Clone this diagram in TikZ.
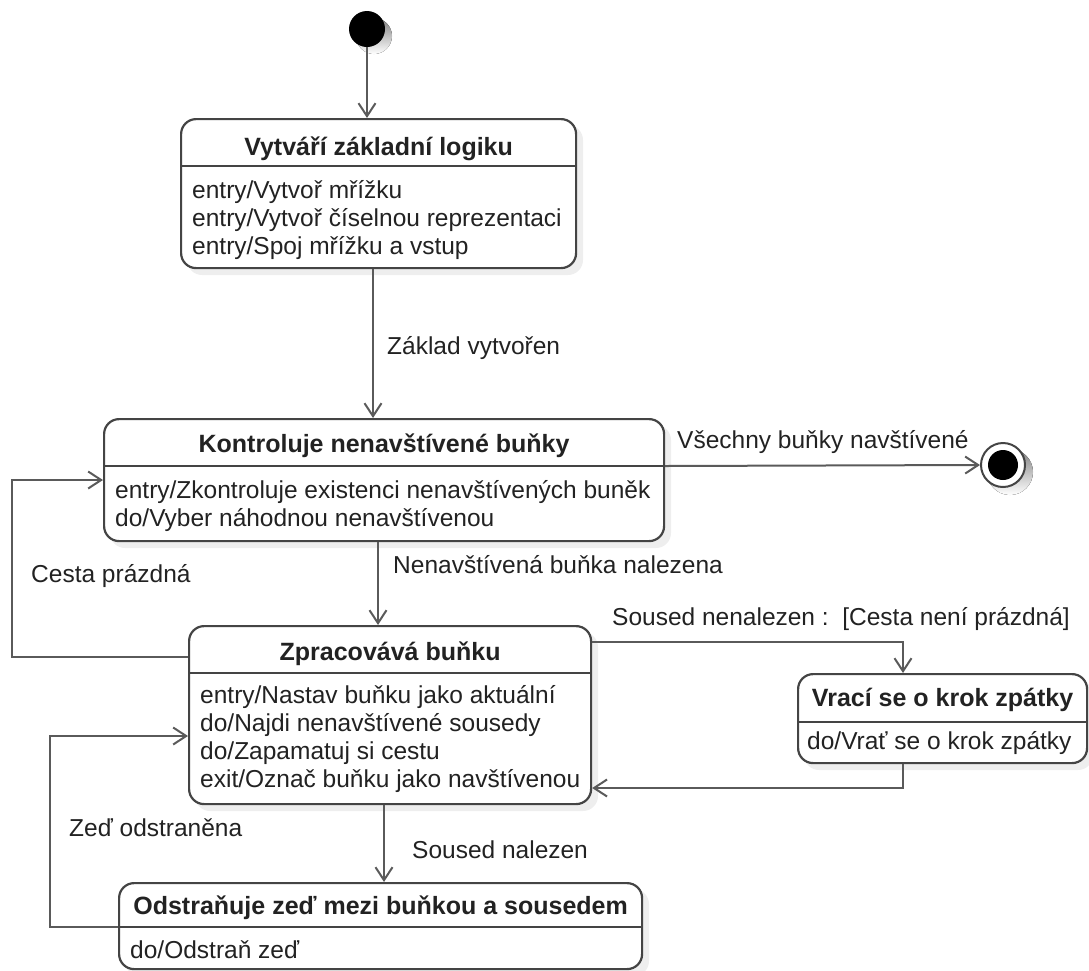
\documentclass[tikz,border=0pt]{standalone}
\usepackage{fontspec}
\setmainfont{Liberation Sans}
\usetikzlibrary{arrows.meta}
\definecolor{edge}{HTML}{5A5A5A}
\definecolor{frame}{HTML}{444444}
\definecolor{ink}{HTML}{222222}
\definecolor{shade}{HTML}{EEEEEE}
\begin{document}
\begin{tikzpicture}[x=1pt,y=-1pt,
  statebox/.style={draw=frame, line width=2.2pt, rounded corners=15pt, fill=white, anchor=north west, inner sep=0pt},
  shadowbox/.style={fill=shade, draw=none, rounded corners=15pt},
  divline/.style={draw=frame, line width=2.2pt},
  titletext/.style={font=\fontsize{25}{28}\selectfont\bfseries, text=ink, inner sep=0pt, anchor=base},
  bodytext/.style={font=\fontsize{24.5}{28}\selectfont, text=ink, inner sep=0pt, anchor=base west},
  edgelabel/.style={font=\fontsize{24.5}{28}\selectfont, text=ink, inner sep=0pt, anchor=base west},
  trans/.style={draw=edge, line width=2pt, -{Straight Barb[length=13pt, width=17pt, line width=2pt]}}
]
\useasboundingbox (0,0) rectangle (1089,970);

% soft shadows behind the states
\fill[shade] (374,36) circle (18);
\fill[shadowbox] (187,125) rectangle (583,275);
\fill[shadowbox] (110,425) rectangle (671,548);
\fill[shadowbox] (195,632) rectangle (598,811);
\fill[shadowbox] (804,680) rectangle (1093,770);
\fill[shadowbox] (125,889) rectangle (649,976);
\fill[shade] (1010,472) circle (23);

% initial and final pseudo-states
\node[circle, fill=black, minimum size=36, inner sep=0pt] (init) at (367,29) {};
\node[circle, draw=frame, line width=2pt, fill=white, minimum size=44, inner sep=0pt] (fin) at (1003,465) {};
\fill[black] (fin.center) circle (15);

% states
\node[statebox, minimum width=395, minimum height=149] (s1) at (180,118) {};
\draw[divline] (s1.west |- 0,166) -- (s1.east |- 0,166);
\node[titletext] at (s1.north |- 0,155) {Vytváří základní logiku};
\node[bodytext] at (192,198) {entry/Vytvoř mřížku};
\node[bodytext] at (192,226) {entry/Vytvoř číselnou reprezentaci};
\node[bodytext] at (192,254) {entry/Spoj mřížku a vstup};

\node[statebox, minimum width=560, minimum height=122] (s2) at (103,418) {};
\draw[divline] (s2.west |- 0,466) -- (s2.east |- 0,466);
\node[titletext] at (s2.north |- 0,452) {Kontroluje nenavštívené buňky};
\node[bodytext] at (115,498) {entry/Zkontroluje existenci nenavštívených buněk};
\node[bodytext] at (115,526) {do/Vyber náhodnou nenavštívenou};

\node[statebox, minimum width=402, minimum height=178] (s3) at (188,625) {};
\draw[divline] (s3.west |- 0,673) -- (s3.east |- 0,673);
\node[titletext] at (s3.north |- 0,660) {Zpracovává buňku};
\node[bodytext] at (200,703) {entry/Nastav buňku jako aktuální};
\node[bodytext] at (200,731) {do/Najdi nenavštívené sousedy};
\node[bodytext] at (200,759) {do/Zapamatuj si cestu};
\node[bodytext] at (200,787) {exit/Označ buňku jako navštívenou};

\node[statebox, minimum width=289, minimum height=89] (s4) at (797,673) {};
\draw[divline] (s4.west |- 0,722) -- (s4.east |- 0,722);
\node[titletext] at (s4.north |- 0,706) {Vrací se o krok zpátky};
\node[bodytext] at (807,749) {do/Vrať se o krok zpátky};

\node[statebox, minimum width=523, minimum height=86] (s5) at (118,882) {};
\draw[divline] (s5.west |- 0,927) -- (s5.east |- 0,927);
\node[titletext] at (s5.north |- 0,914) {Odstraňuje zeď mezi buňkou a sousedem};
\node[bodytext] at (130,958) {do/Odstraň zeď};

% transitions
\draw[trans] (init) -- (init |- s1.north);
\draw[trans] (373,0 |- s1.south) -- (373,0 |- s2.north);
\draw[trans] (s2.east |- 0,466) -- (fin.west);
\draw[trans] (378,0 |- s2.south) -- (378,0 |- s3.north);
\draw[trans] (s3.west |- 0,657) -- ++(-176,0) |- (s2.west |- 0,480);
\draw[trans] (s3.east |- 0,642) -| (903,0 |- s4.north);
\draw[trans] (903,0 |- s4.south) |- (s3.east |- 0,788);
\draw[trans] (384,0 |- s3.south) -- (384,0 |- s5.north);
\draw[trans] (s5.west |- 0,927) -- ++(-68,0) |- (s3.west |- 0,736);

% transition labels
\node[edgelabel] at (387,354) {Základ vytvořen};
\node[edgelabel] at (677,448) {Všechny buňky navštívené};
\node[edgelabel] at (393,573) {Nenavštívená buňka nalezena};
\node[edgelabel] at (31,582) {Cesta prázdná};
\node[edgelabel] at (612,625) {Soused nenalezen :\ \ [Cesta není prázdná]};
\node[edgelabel] at (69,836) {Zeď odstraněna};
\node[edgelabel] at (412,858) {Soused nalezen};
\end{tikzpicture}
\end{document}
